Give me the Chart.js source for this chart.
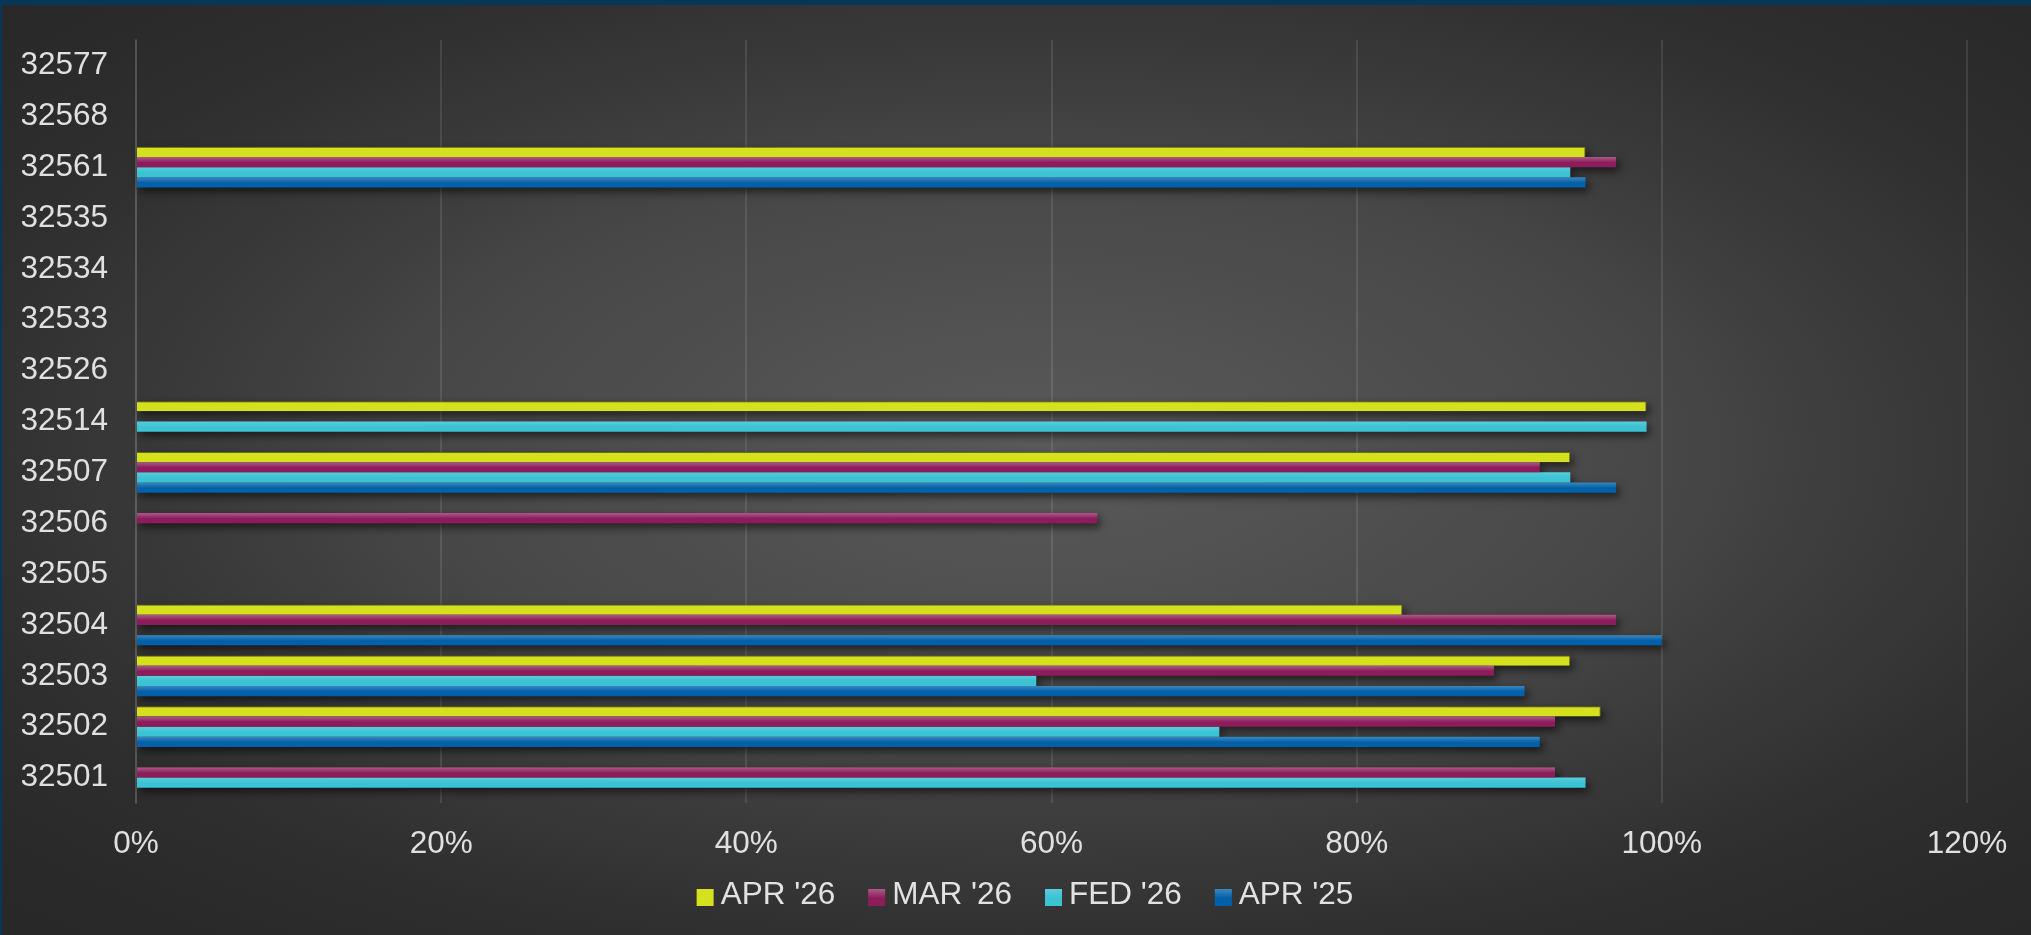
<!DOCTYPE html>
<html>
<head>
<meta charset="utf-8">
<script src="https://cdn.jsdelivr.net/npm/chart.js@4.4.1/dist/chart.umd.min.js"></script>
<style>
html,body{margin:0;padding:0;background:#2a2a2a;}
#wrap{position:relative;width:2031px;height:935px;overflow:hidden;
  background:radial-gradient(1015px 467px at 1040px 450px,#5a5a5a 0%,#474747 62%,#3c3c3c 81%,#2e2e2e 111%,#282828 140%);}
#frameTop{position:absolute;left:0;top:0;width:2031px;height:5px;background:#063658;}
#frameLeft{position:absolute;left:0;top:0;width:2px;height:935px;background:#063658;}
canvas{position:absolute;left:0;top:0;}
</style>
</head>
<body>
<div id="wrap">
  <canvas id="c" width="2031" height="935"></canvas>
  <div id="frameTop"></div>
  <div id="frameLeft"></div>
</div>
<script>
// ---- data ----
const categories = ['32577','32568','32561','32535','32534','32533','32526','32514','32507','32506','32505','32504','32503','32502','32501'];
const seriesNames = ["APR '26", "MAR '26", "FED '26", "APR '25"];
const apr26 = [null, null, 95, null, null, null, null, 99, 94, null, null, 83, 94, 96, null];
const mar26 = [null, null, 97, null, null, null, null, null, 92, 63, null, 97, 89, 93, 93];
const fed26 = [null, null, 94, null, null, null, null, 99, 94, null, null, null, 59, 71, 95];
const apr25 = [null, null, 95, null, null, null, null, null, 97, null, null, 100, 91, 92, null];
const xTicks = [0, 20, 40, 60, 80, 100, 120];

const FONT = 'Liberation Sans';
const FSIZE = 31.5;
Chart.defaults.font.family = FONT;

const shadowPlugin = {
  id: 'barShadow',
  beforeDatasetsDraw(chart) {
    const c = chart.ctx;
    c.save();
    c.filter = 'blur(4px)';
    c.fillStyle = 'rgba(0,0,0,0.6)';
    chart.data.datasets.forEach((ds, di) => {
      const meta = chart.getDatasetMeta(di);
      meta.data.forEach((el, i) => {
        if (ds.data[i] == null) return;
        const p = el.getProps(['x', 'y', 'base', 'height'], true);
        const left = Math.min(p.x, p.base), w = Math.abs(p.x - p.base);
        c.fillRect(left + 3, p.y - p.height / 2 + 4, w, p.height);
      });
    });
    c.restore();
  },
  afterDatasetsDraw(chart) {
    const c = chart.ctx;
    c.save();
    chart.data.datasets.forEach((ds, di) => {
      if (!ds.shine) return;
      const meta = chart.getDatasetMeta(di);
      meta.data.forEach((el, i) => {
        if (ds.data[i] == null) return;
        const p = el.getProps(['x', 'y', 'base', 'height'], true);
        const top = p.y - p.height / 2;
        const left = Math.min(p.x, p.base), w = Math.abs(p.x - p.base);
        const g = c.createLinearGradient(0, top, 0, top + p.height * 0.55);
        g.addColorStop(0, ds.shine);
        g.addColorStop(1, 'rgba(255,255,255,0)');
        c.fillStyle = g;
        c.fillRect(left, top, w, p.height * 0.55);
      });
    });
    c.restore();
  }
};

const legendPlugin = {
  id: 'customLegend',
  afterDraw(chart) {
    const c = chart.ctx;
    c.save();
    c.font = FSIZE + 'px "' + FONT + '"';
    c.textBaseline = 'middle';
    const box = 17, gap = 7, spacing = 33, cx = 1025, cy = 895;
    const items = chart.data.datasets.map(d => ({label: d.label, color: d.backgroundColor, shine: d.shine, w: c.measureText(d.label).width}));
    let total = 0;
    items.forEach((it, i) => { total += box + gap + it.w + (i < items.length - 1 ? spacing : 0); });
    let x = cx - total / 2;
    items.forEach(it => {
      const by = cy + 2.5 - box / 2;
      c.fillStyle = it.color;
      c.fillRect(x, by, box, box);
      if (it.shine) {
        const g = c.createLinearGradient(0, by, 0, by + box * 0.55);
        g.addColorStop(0, it.shine);
        g.addColorStop(1, 'rgba(255,255,255,0)');
        c.fillStyle = g;
        c.fillRect(x, by, box, box * 0.55);
      }
      c.fillStyle = '#e2e2e2';
      c.fillText(it.label, x + box + gap, cy);
      x += box + gap + it.w + spacing;
    });
    c.restore();
  }
};

new Chart(document.getElementById('c'), {
  type: 'bar',
  data: {
    labels: categories,
    datasets: [
      {label: seriesNames[0], data: apr26, backgroundColor: '#d6e11d', borderColor: 'rgba(110,115,15,0.9)', borderWidth: {top: 1, right: 1, bottom: 0, left: 0}, borderSkipped: false},
      {label: seriesNames[1], data: mar26, backgroundColor: '#8c1c5b', shine: 'rgba(255,255,255,0.28)', borderWidth: 0},
      {label: seriesNames[2], data: fed26, backgroundColor: '#3bc2d3', shine: 'rgba(255,255,255,0.16)', borderWidth: 0},
      {label: seriesNames[3], data: apr25, backgroundColor: '#0060a9', shine: 'rgba(255,255,255,0.24)', borderWidth: 0}
    ]
  },
  options: {
    indexAxis: 'y',
    responsive: false,
    animation: false,
    events: [],
    datasets: {bar: {categoryPercentage: 0.8, barPercentage: 1.0}},
    layout: {padding: {left: 22, right: 64, top: 40, bottom: 75}},
    plugins: {legend: {display: false}, tooltip: {enabled: false}},
    scales: {
      x: {
        min: xTicks[0], max: xTicks[xTicks.length - 1],
        afterBuildTicks: s => { s.ticks = xTicks.map(v => ({value: v})); },
        afterFit: s => { s.height = 57; },
        ticks: {callback: v => v + '%', color: '#e0e0e0', font: {size: FSIZE}, padding: 22, maxRotation: 0},
        grid: {color: 'rgba(255,255,255,0.1)', lineWidth: 2, drawTicks: false},
        border: {display: false}
      },
      y: {
        afterFit: s => { s.width = 114; s.paddingTop = 0; s.paddingBottom = 0; },
        ticks: {color: '#e0e0e0', font: {size: FSIZE}, padding: 28, autoSkip: false},
        grid: {display: false, drawTicks: false},
        border: {display: true, color: 'rgba(255,255,255,0.1)', width: 2}
      }
    }
  },
  plugins: [shadowPlugin, legendPlugin]
});
</script>
</body>
</html>
